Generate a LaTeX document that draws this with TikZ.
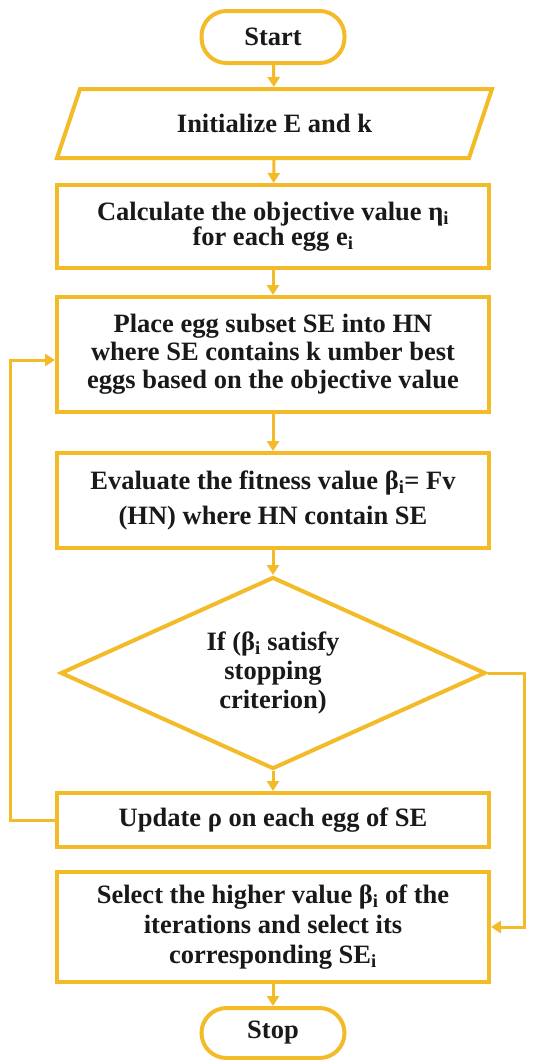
\documentclass[tikz,border=0pt]{standalone}
\usepackage{fontspec}
\setmainfont{Liberation Serif}
\usetikzlibrary{shapes.geometric,arrows.meta}
\definecolor{gold}{RGB}{243,187,40}
\definecolor{txt}{RGB}{25,25,25}
\tikzset{
  base/.style={draw=gold, line width=4pt, fill=white, text=txt, inner sep=0pt,
    font=\fontsize{26.5}{28}\selectfont\bfseries, align=center},
  procbox/.style={base, rectangle, minimum width=432pt},
  termbox/.style={base, rectangle, rounded corners=25pt, minimum width=143pt, minimum height=52pt},
  iobox/.style={base, trapezium, trapezium left angle=39, trapezium right angle=141,
    trapezium stretches body, minimum width=435pt, minimum height=69pt},
  decbox/.style={base, diamond, minimum width=425pt, minimum height=192pt},
  plaintext/.style={text=txt, inner sep=0pt, align=center},
  conn/.style={draw=gold, line width=3pt, -{Triangle[width=12pt,length=10pt]}},
}
\begin{document}
\begin{tikzpicture}[x=1pt,y=-1pt]
\useasboundingbox (0,0) rectangle (551,1060);
\node[termbox] (start) at (273,37) {Start};
\node[iobox] (init) at (274.5,123.5) {Initialize E and k};
\node[procbox, minimum height=83pt, font=\fontsize{26.5}{25}\selectfont\bfseries] (calc) at (273,226.5) {Calculate the objective value η\textsubscript{i}\\for each egg e\textsubscript{i}};
\node[procbox, minimum height=115pt] (place) at (273,354.5) {Place egg subset SE into HN\\where SE contains k umber best\\eggs based on the objective value};
\node[procbox, minimum height=95pt, font=\fontsize{26.5}{35}\selectfont\bfseries] (eval) at (273,500.5) {Evaluate the fitness value β\textsubscript{i}= Fv\\(HN) where HN contain SE};
\node[decbox] (dec) at (273,673) {};
\node[plaintext, font=\fontsize{26.5}{29}\selectfont\bfseries] (dectext) at (dec.center) {If (β\textsubscript{i} satisfy\\stopping\\criterion)};
\node[procbox, minimum height=54pt] (upd) at (273,820) {Update ρ on each egg of SE};
\node[procbox, minimum height=110pt, font=\fontsize{26.5}{30}\selectfont\bfseries] (sel) at (273,927) {Select the higher value β\textsubscript{i} of the\\iterations and select its\\corresponding SE\textsubscript{i}};
\node[termbox, minimum height=50pt] (stop) at (273,1033) {Stop};
\draw[conn] (start) -- (init);
\draw[conn] (init) -- (calc);
\draw[conn] (calc) -- (place);
\draw[conn] (place) -- (eval);
\draw[conn] (eval) -- (dec);
\draw[conn] (dec) -- (upd);
\draw[conn] (sel) -- (stop);
\draw[conn] (upd.west) -- ++(-45,0) |- ([yshift=-5.5pt]place.west);
\draw[conn] (dec.east) -- ++(37,0) |- (sel.east);
\end{tikzpicture}
\end{document}
